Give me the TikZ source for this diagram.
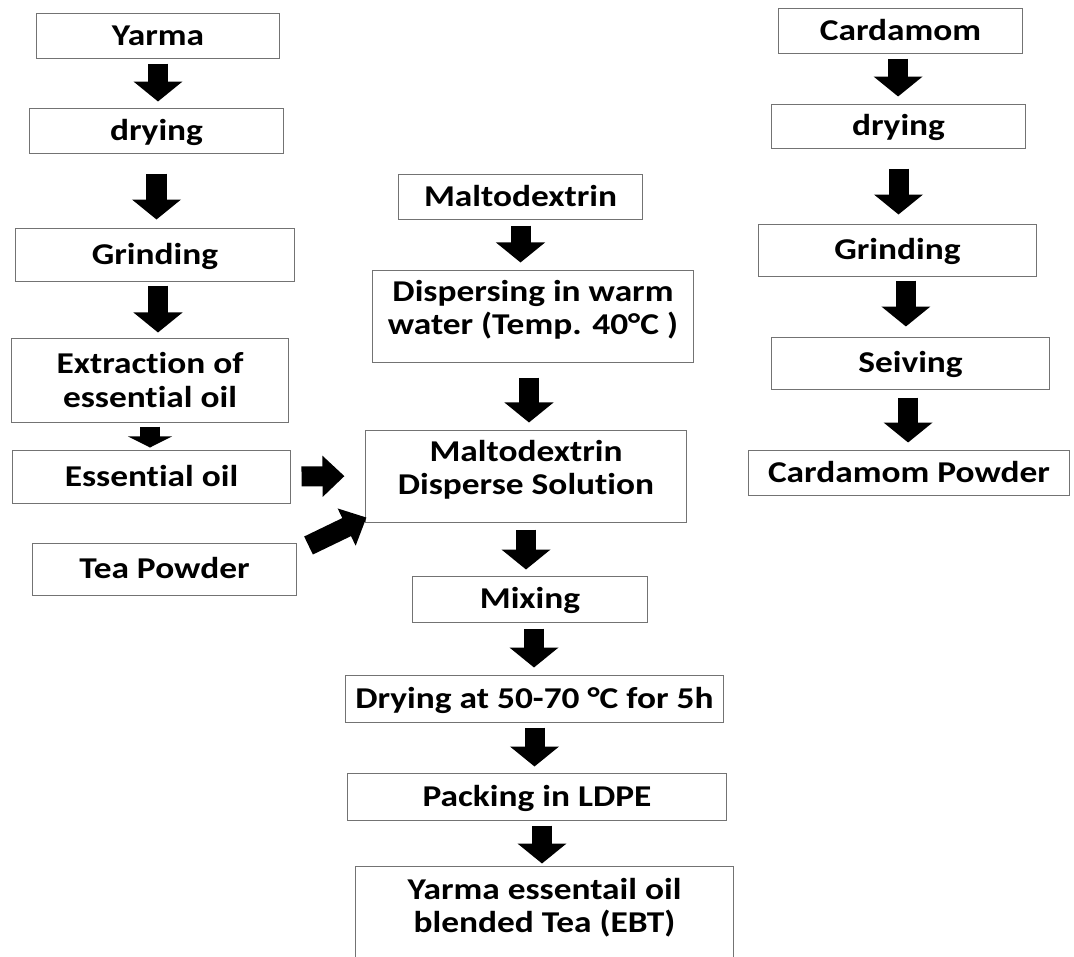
\documentclass[tikz,border=0pt]{standalone}
\usepackage{fontspec}
\setmainfont{Carlito}[FakeStretch=1.17,Ligatures={NoCommon,NoContextual}]
\usetikzlibrary{arrows.meta}

\begin{document}
\begin{tikzpicture}[x=0.025cm,y=-0.025cm,line join=miter,
  box/.style={draw=black!55,line width=0.7pt,inner sep=0pt,font=\fontsize{21.5}{23.5}\selectfont\bfseries,text height=13.8pt,text depth=0pt},
  mbox/.style={draw=black!55,line width=0.7pt,inner sep=0pt,align=center,font=\fontsize{21.5}{23.5}\selectfont\bfseries},
  blk/.style={line width=0.5cm,-{Triangle[width=1.2cm,length=0.5cm]}},
  blks/.style={line width=0.5cm,-{Triangle[width=1cm,length=0.55cm]}},
]
\useasboundingbox (0,0) rectangle (1074,956);
\clip (0,0) rectangle (1074,956);
%% yarma column
\node (yarma) at (158,35.5) [box,minimum width=6.05cm,minimum height=1.125cm] {Yarma};
  \node (ydry) at (156.5,130.5) [box,minimum width=6.325cm,minimum height=1.125cm] {drying};
  \node (ygrind) at (155,254.5) [box,minimum width=6.95cm,minimum height=1.325cm] {Grinding};
  \node (yext) at (150,380) [mbox,minimum width=6.9cm,minimum height=2.1cm] {Extraction of\\essential oil};
  \node (yoil) at (151.5,476.5) [box,minimum width=6.925cm,minimum height=1.325cm] {Essential oil};
  \node (tea) at (164.5,569) [box,minimum width=6.575cm,minimum height=1.3cm] {Tea Powder};
%% maltodextrin column
\node (malto) at (520.5,196.5) [box,minimum width=6.075cm,minimum height=1.125cm] {Maltodextrin};
  \node (disp) at (533,316) [mbox,minimum width=8cm,minimum height=2.3cm] {Dispersing in warm\\water (Temp. 40°C )\rule[-12.7pt]{0pt}{0pt}};
  \node (mds) at (526,476) [mbox,minimum width=8cm,minimum height=2.3cm] {Maltodextrin\\Disperse Solution\rule[-12.9pt]{0pt}{0pt}};
  \node (mix) at (530,599) [box,minimum width=5.85cm,minimum height=1.15cm] {Mixing};
  \node (dry) at (534.5,698.5) [box,minimum width=9.425cm,minimum height=1.175cm] {Drying at 50-70 °C for 5h};
  \node (pack) at (537,796.5) [box,minimum width=9.45cm,minimum height=1.175cm] {Packing in LDPE};
  \node (ebt) at (544.5,916) [mbox,minimum width=9.425cm,minimum height=2.5cm] {Yarma essentail oil\\blended Tea (EBT)\rule[-15.6pt]{0pt}{0pt}};
%% cardamom column
\node (card) at (900.5,30.5) [box,minimum width=6.075cm,minimum height=1.125cm] {Cardamom};
  \node (cdry) at (898.5,126) [box,minimum width=6.325cm,minimum height=1.1cm] {drying};
  \node (cgrind) at (897.5,250) [box,minimum width=6.925cm,minimum height=1.3cm] {Grinding};
  \node (seive) at (910.5,363) [box,minimum width=6.925cm,minimum height=1.3cm] {Seiving};
  \node (cpow) at (909,472.5) [box,minimum width=8cm,minimum height=1.125cm] {Cardamom Powder};
%
\draw [blk,shorten <=0.125cm,shorten >=0.15cm] (yarma.south) -- (yarma.south |- ydry.north);
  \draw [blk,shorten <=0.5cm,shorten >=0.2cm] (ydry.south) -- (ydry.south |- ygrind.north);
  \draw [blk,shorten <=0.1cm,shorten >=0.125cm] ([xshift=0.075cm]ygrind.south) -- ([xshift=0.075cm]ygrind.south |- yext.north);
  \draw [line width=0.52cm,-{Triangle[width=1.1cm,length=0.28cm]},shorten <=0.1cm,shorten >=0.05cm] (yext.south) -- (yext.south |- yoil.north);
  \draw [blks,shorten <=0.275cm,shorten >=0.525cm] (yoil.east) -- (mds.west);
  \draw [blks] ([shift={(12,3)}]tea.north east) -- ([shift={(1,-5)}]mds.south west);
  \draw [blk,shorten <=0.15cm,shorten >=0.175cm] (malto.south) -- (malto.south |- disp.north);
  \draw [blk,shorten <=0.375cm,shorten >=0.175cm] ([xshift=-0.1cm]disp.south) -- ([xshift=-0.1cm]disp.south |- mds.north);
  \draw [blk,shorten <=0.175cm,shorten >=0.15cm] (mds.south) -- (mds.south |- mix.north);
  \draw [blk,shorten <=0.15cm,shorten >=0.175cm] ([xshift=0.1cm]mix.south) -- ([xshift=0.1cm]mix.south |- dry.north);
  \draw [blk,shorten <=0.125cm,shorten >=0.15cm] (dry.south) -- (dry.south |- pack.north);
  \draw [blk,shorten <=0.125cm,shorten >=0.05cm] ([xshift=0.125cm]pack.south) -- ([xshift=0.125cm]pack.south |- ebt.north);
  \draw [blk,shorten <=0.125cm,shorten >=0.175cm] ([xshift=-0.06cm]card.south) -- ([xshift=-0.06cm]card.south |- cdry.north);
  \draw [blk,shorten <=0.5cm,shorten >=0.225cm] (cdry.south) -- (cdry.south |- cgrind.north);
  \draw [blk,shorten <=0.1cm,shorten >=0.25cm] ([xshift=0.21cm]cgrind.south) -- ([xshift=0.21cm]cgrind.south |- seive.north);
  \draw [blk,shorten <=0.2cm,shorten >=0.175cm] ([xshift=-0.06cm]seive.south) -- ([xshift=-0.06cm]seive.south |- cpow.north);
%
\end{tikzpicture}
\end{document}
